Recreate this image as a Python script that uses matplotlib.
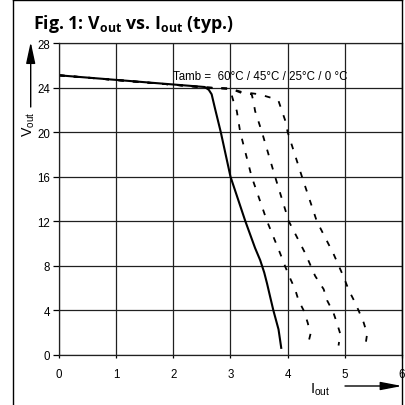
import matplotlib
matplotlib.use("Agg")
import matplotlib.pyplot as plt
from matplotlib.lines import Line2D

plt.rcParams['font.family'] = ['Liberation Sans', 'DejaVu Sans']
plt.rcParams['mathtext.fontset'] = 'custom'
plt.rcParams['mathtext.rm'] = 'Liberation Sans'
plt.rcParams['mathtext.bf'] = 'Open Sans:bold'

# curves (I_out in A, V_out in V)
i_60 = [0, 2.55, 2.62, 2.67, 2.73, 2.83, 3.0, 3.26, 3.43, 3.52, 3.59, 3.64, 3.69, 3.75, 3.84, 3.89]
v_60 = [25.1, 24.05, 23.8, 23.4, 22.1, 20, 16, 12, 9.6, 8.5, 7.4, 6.4, 5.3, 4, 2.3, 0.55]

i_45 = [0, 2.6, 2.95, 3.0, 3.05, 3.11, 3.17, 3.37, 3.64, 3.87, 3.96, 4.05, 4.13, 4.19, 4.28, 4.35, 4.40, 4.35]
v_45 = [25.1, 24.0, 23.9, 23.7, 22.8, 21.9, 20, 16, 12, 9.1, 7.9, 6.8, 5.9, 4.9, 4.0, 2.9, 1.9, 0.85]

i_25 = [0, 2.6, 3.0, 3.2, 3.37, 3.40, 3.43, 3.55, 3.78, 4.02, 4.31, 4.48, 4.63, 4.69, 4.80, 4.86, 4.92, 4.89]
v_25 = [25.1, 24.0, 23.9, 23.5, 23.4, 22.8, 21.9, 20, 16, 12, 9.1, 7.1, 5.9, 4.9, 3.8, 2.9, 1.9, 0.85]

i_0 = [0, 2.6, 3.0, 3.2, 3.5, 3.7, 3.84, 3.90, 3.96, 4.0, 4.25, 4.51, 4.80, 4.98, 5.07, 5.15, 5.24, 5.33, 5.39, 5.36]
v_0 = [25.1, 24.0, 23.9, 23.6, 23.4, 23.1, 22.8, 21.9, 21.0, 20, 16, 12, 9.1, 7.0, 5.8, 5.0, 4.0, 2.9, 1.9, 0.85]

x_ticks = [0, 1, 2, 3, 4, 5, 6]
y_ticks = [0, 4, 8, 12, 16, 20, 24, 28]

fig = plt.figure(figsize=(4.06, 4.06), dpi=100)
W = H = 406.0
ax = fig.add_axes([59 / W, 1 - 356 / H, (402 - 59) / W, (356 - 44) / H])

ax.set_xlim(0, 6)
ax.set_ylim(0, 28)
ax.set_xticks(x_ticks)
ax.set_yticks(y_ticks)
ax.tick_params(axis='y', length=4.3, width=0.9, pad=2, labelsize=8.3, direction='out')
ax.tick_params(axis='x', length=2.5, width=0.9, pad=7, labelsize=8.3, direction='out')
ax.grid(True, color='#202020', lw=0.9)
for s in ax.spines.values():
    s.set_color('#202020')
    s.set_linewidth(0.9)

ax.plot(i_60, v_60, color='black', lw=1.5, solid_capstyle='butt')
for xs, ys in [(i_45, v_45), (i_25, v_25), (i_0, v_0)]:
    ax.plot(xs, ys, color='black', lw=1.3, dashes=(3.2, 5.0))

ax.text(1.99, 25.0, 'Tamb =  60°C / 45°C / 25°C / 0 °C', fontsize=8.3, va='center')

# title and axis labels with arrows
fig.text(33 / W, 1 - 29 / H, r'Fig. 1: V$_{\mathbf{out}}$ vs. I$_{\mathbf{out}}$ (typ.)',
         fontsize=12.8, fontweight='bold', family='Open Sans', va='baseline',
         math_fontfamily='custom')
fig.text(29 / W, 1 - 124 / H, r'V$_{\mathrm{out}}$', rotation=90, fontsize=10.2,
         ha='center', va='center')
fig.text(320 / W, 1 - 390 / H, r'I$_{\mathrm{out}}$', fontsize=10.5, ha='center', va='center')

ax.annotate('', xy=(30.7 / W, 1 - 43 / H), xytext=(30.7 / W, 1 - 108 / H),
            xycoords='figure fraction', textcoords='figure fraction',
            arrowprops=dict(arrowstyle='-|>,head_length=1.3,head_width=0.28',
                            color='black', lw=1.0, shrinkA=0, shrinkB=0))
ax.annotate('', xy=(402 / W, 1 - 387 / H), xytext=(345 / W, 1 - 387 / H),
            xycoords='figure fraction', textcoords='figure fraction',
            arrowprops=dict(arrowstyle='-|>,head_length=1.3,head_width=0.25',
                            color='black', lw=1.0, shrinkA=0, shrinkB=0))

# outer frame
fig.add_artist(Line2D([13.3 / W, 13.3 / W], [0, 1], color='black', lw=1.0))
fig.add_artist(Line2D([13.3 / W, 401.7 / W], [1 - 1 / H, 1 - 1 / H], color='black', lw=1.0))
fig.add_artist(Line2D([401.7 / W, 401.7 / W], [0, 1], color='black', lw=1.0))

fig.savefig('out.png', dpi=100, facecolor='white')
